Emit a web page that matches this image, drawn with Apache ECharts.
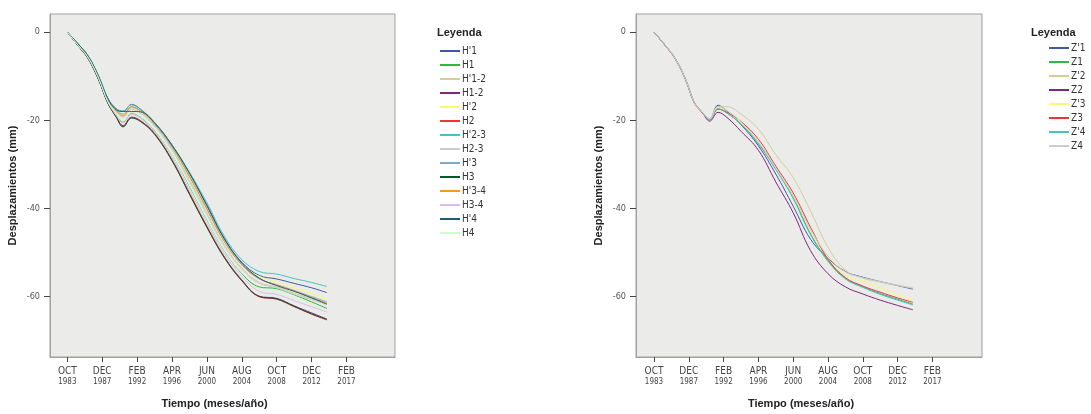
<!DOCTYPE html>
<html>
<head>
<meta charset="utf-8">
<title>Desplazamientos</title>
<script src="https://cdn.jsdelivr.net/npm/echarts@6/dist/echarts.min.js"></script>
<style>
  html, body { margin: 0; padding: 0; background: #fff; }
  #chart { width: 1091px; height: 414px; }
</style>
</head>
<body>
<div id="chart"></div>
<script>
// meses desde OCT 1983
var months = [0, 15, 30, 45, 58, 70, 80, 92, 105, 125, 150, 175, 200, 225, 250, 275, 300, 325, 350, 372]

var tickPos = [0, 50, 100, 150, 200, 250, 300, 350, 400]
var tickMonths = ['OCT', 'DEC', 'FEB', 'APR', 'JUN', 'AUG', 'OCT', 'DEC', 'FEB']
var tickYears = ['1983', '1987', '1992', '1996', '2000', '2004', '2008', '2012', '2017']
var yTicks = [0, -20, -40, -60]

// panel izquierdo (H)
var hNames = ["H'1", 'H1', "H'1-2", 'H1-2', "H'2", 'H2', "H'2-3", 'H2-3', "H'3", 'H3', "H'3-4", 'H3-4', "H'4", 'H4']
var hColors = ['#3E58AC', '#2EB848', '#D3CE97', '#7C287D', '#FBF873', '#EF3338', '#48C2C5', '#CCCCCC', '#7AAAD5', '#0A562C', '#F8981D', '#DDBAF1', '#1A5F76', '#CCFFCC']

var H1p = [0, -2.6, -5.5, -10.1, -15.0, -17.4, -18.0, -16.4, -17.5, -20.5, -25.6, -32.0, -39.2, -46.8, -52.2, -55.2, -56.0, -57.0, -58.0, -59.1]
var H1 = [0, -2.9, -5.9, -10.6, -15.8, -18.8, -20.4, -18.4, -19.3, -22.3, -28.0, -35.2, -42.8, -49.8, -54.8, -57.8, -58.2, -59.6, -61.2, -62.7]
var H12p = [0, -2.8, -5.7, -10.4, -15.4, -18.0, -19.0, -17.2, -18.2, -21.2, -26.5, -33.5, -41.0, -48.3, -53.5, -56.8, -57.8, -59.2, -60.5, -61.7]
var H12 = [0, -3.0, -6.0, -10.8, -16.0, -19.1, -21.2, -19.3, -20.1, -23.0, -29.0, -36.6, -44.2, -51.0, -56.2, -59.9, -60.4, -62.1, -63.7, -65.1]
var H2p = [0, -2.7, -5.6, -10.3, -15.2, -17.8, -18.8, -17.0, -18.0, -20.9, -26.2, -33.0, -40.3, -47.6, -52.8, -55.4, -56.6, -58.0, -59.3, -60.6]
var H2 = [0, -3.0, -6.0, -10.8, -16.0, -19.2, -21.4, -19.4, -20.2, -23.0, -29.0, -36.5, -44.0, -51.0, -56.3, -60.0, -60.6, -62.3, -64.0, -65.3]
var H23p = [0, -2.6, -5.4, -10.0, -15.0, -17.4, -17.9, -16.5, -17.6, -20.6, -25.6, -31.8, -38.7, -46.3, -51.6, -54.3, -54.9, -55.9, -56.8, -57.7]
var H23 = [0, -2.8, -5.7, -10.4, -15.5, -18.2, -19.3, -17.5, -18.4, -21.4, -26.8, -33.9, -41.4, -48.6, -53.8, -57.0, -58.0, -59.5, -60.7, -61.9]
var H3p = [0, -2.7, -5.6, -10.2, -15.2, -17.7, -18.6, -16.9, -17.9, -20.9, -26.1, -32.8, -40.2, -47.5, -52.8, -56.0, -57.3, -58.6, -60.0, -61.2]
var H3 = [0, -3.0, -6.1, -10.9, -16.1, -19.3, -21.5, -19.5, -20.3, -23.2, -29.2, -36.8, -44.3, -51.2, -56.4, -60.0, -60.5, -62.2, -63.9, -65.2]
var H34p = [0, -2.7, -5.5, -10.3, -15.2, -17.8, -19.0, -17.0, -17.9, -20.7, -25.9, -32.6, -40.0, -47.4, -52.7, -55.9, -57.4, -58.7, -60.2, -61.5]
var H34 = [0, -2.9, -5.9, -10.6, -15.8, -18.9, -20.6, -18.7, -19.6, -22.6, -28.4, -35.8, -43.3, -50.3, -55.4, -58.8, -59.5, -60.9, -62.3, -63.5]
var H4p = [0, -2.6, -5.5, -10.1, -15.1, -17.6, -18.0, -18.0, -18.1, -20.6, -25.7, -32.0, -39.4, -46.9, -52.4, -55.8, -57.5, -58.8, -60.3, -61.7]
var H4 = [0, -2.9, -5.8, -10.5, -15.7, -18.6, -20.2, -18.3, -19.2, -22.2, -28.0, -35.4, -42.9, -49.9, -55.0, -58.4, -59.0, -60.5, -61.8, -63.0]
var hValues = [H1p, H1, H12p, H12, H2p, H2, H23p, H23, H3p, H3, H34p, H34, H4p, H4]

// panel derecho (Z)
var zNames = ["Z'1", 'Z1', "Z'2", 'Z2', "Z'3", 'Z3', "Z'4", 'Z4']
var zColors = ['#3E58AC', '#2EB848', '#D3CE97', '#7C287D', '#FBF873', '#EF3338', '#48C2C5', '#CCCCCC']

var Z1p = [0, -2.8, -5.9, -10.6, -16.0, -18.3, -19.7, -16.6, -18.0, -21.0, -25.8, -32.2, -39.5, -47.0, -51.3, -54.3, -55.6, -56.6, -57.5, -58.3]
var Z1 = [0, -2.8, -5.9, -10.6, -16.0, -18.3, -19.9, -17.4, -18.4, -20.8, -25.3, -31.0, -37.5, -45.8, -51.8, -55.9, -57.8, -59.3, -60.6, -61.7]
var Z2p = [0, -2.8, -5.9, -10.6, -16.0, -18.3, -19.6, -17.0, -16.9, -18.6, -22.0, -27.8, -33.0, -40.6, -48.8, -54.0, -55.8, -56.7, -57.5, -58.1]
var Z2 = [0, -2.8, -5.9, -10.6, -16.0, -18.4, -20.2, -18.2, -19.4, -22.5, -26.8, -34.0, -41.0, -49.6, -54.8, -57.8, -59.4, -60.8, -62.0, -63.0]
var Z3p = [0, -2.8, -5.9, -10.6, -16.0, -18.3, -19.8, -17.2, -18.2, -20.6, -24.9, -30.9, -37.2, -45.0, -51.3, -55.2, -56.5, -58.0, -59.5, -60.9]
var Z3 = [0, -2.9, -6.0, -10.7, -16.1, -18.4, -19.9, -17.5, -18.2, -20.3, -24.3, -30.4, -36.5, -44.3, -51.5, -55.7, -57.6, -59.0, -60.3, -61.3]
var Z4p = [0, -2.8, -5.9, -10.6, -16.0, -18.3, -19.9, -17.4, -18.4, -20.9, -25.4, -31.2, -37.8, -46.0, -52.0, -56.0, -57.9, -59.5, -60.8, -61.9]
var Z4 = [0, -2.8, -5.9, -10.6, -16.0, -18.3, -19.7, -16.9, -17.8, -20.4, -24.9, -30.8, -37.0, -44.8, -50.8, -54.4, -55.7, -56.6, -57.4, -58.0]
var zValues = [Z1p, Z1, Z2p, Z2, Z3p, Z3, Z4p, Z4]

var FONT = '"Liberation Sans Narrow", "DejaVu Sans Condensed", "Liberation Sans", Arial, sans-serif'
var TITLE_FONT = '"Liberation Sans", Arial, sans-serif'

function xAxisFor(gridIndex, min, max) {
    return {
        type: 'value',
        gridIndex: gridIndex,
        min: min,
        max: max,
        name: 'Tiempo (meses/año)',
        nameLocation: 'middle',
        nameGap: 41,
        nameTextStyle: { fontFamily: TITLE_FONT, fontSize: 11, fontWeight: 'bold', color: '#222', padding: [0, 16, 0, 0] },
        splitLine: { show: false },
        axisLine: { show: true, onZero: false, lineStyle: { color: '#a0a0a0' } },
        axisTick: { show: true, customValues: tickPos, length: 5, lineStyle: { color: '#444' } },
        axisLabel: {
            customValues: tickPos,
            margin: 9,
            formatter: function (v) {
                var i = tickPos.indexOf(v)
                return '{m|' + tickMonths[i] + '}\n{y|' + tickYears[i] + '}'
            },
            rich: {
                m: { fontFamily: FONT, fontSize: 10, color: '#444', lineHeight: 11 },
                y: { fontFamily: FONT, fontSize: 8, color: '#444', lineHeight: 10 }
            }
        }
    }
}

function yAxisFor(gridIndex) {
    return {
        type: 'value',
        gridIndex: gridIndex,
        min: -73.7,
        max: 4.1,
        name: 'Desplazamientos (mm)',
        nameLocation: 'middle',
        nameGap: 32,
        nameTextStyle: { fontFamily: TITLE_FONT, fontSize: 11, fontWeight: 'bold', color: '#222' },
        splitLine: { show: false },
        axisLine: { show: true, onZero: false, lineStyle: { color: '#a0a0a0' } },
        axisTick: { show: true, customValues: yTicks, length: 6, lineStyle: { color: '#444' } },
        axisLabel: { customValues: yTicks, margin: 10, fontFamily: FONT, fontSize: 9, color: '#555' }
    }
}

function makeSeries(names, colors, values, idx) {
    return names.map(function (n, k) {
        return {
            name: n,
            type: 'line',
            xAxisIndex: idx,
            yAxisIndex: idx,
            symbol: 'none',
            smooth: 0.4,
            lineStyle: { width: 1, color: colors[k] },
            itemStyle: { color: colors[k] },
            data: months.map(function (m, i) { return [m, values[k][i]] })
        }
    })
}

function legendFor(names, left, top) {
    return {
        data: names,
        orient: 'vertical',
        left: left,
        top: top,
        icon: 'rect',
        itemWidth: 20,
        itemHeight: 2,
        itemGap: 4,
        padding: 0,
        textStyle: { fontFamily: FONT, fontSize: 10, color: '#333', padding: [0, 0, 0, -3] },
        selectedMode: false
    }
}

var chart = echarts.init(document.getElementById('chart'))

var option = {
    animation: false,
    backgroundColor: '#ffffff',
    title: [
        { text: 'Leyenda', left: 437, top: 27, padding: 0, textStyle: { fontFamily: TITLE_FONT, fontSize: 11, fontWeight: 'bold', color: '#222' } },
        { text: 'Leyenda', left: 1031, top: 27, padding: 0, textStyle: { fontFamily: TITLE_FONT, fontSize: 11, fontWeight: 'bold', color: '#222' } }
    ],
    legend: [
        legendFor(hNames, 440, 46),
        legendFor(zNames, 1049, 43)
    ],
    grid: [
        { left: 50, top: 14, width: 345, height: 344, show: true, backgroundColor: '#EBEBE9', borderColor: '#a0a0a0', borderWidth: 1 },
        { left: 636, top: 14, width: 346, height: 344, show: true, backgroundColor: '#EBEBE9', borderColor: '#a0a0a0', borderWidth: 1 }
    ],
    xAxis: [xAxisFor(0, -24.8, 469.5), xAxisFor(1, -25.9, 471.3)],
    yAxis: [yAxisFor(0), yAxisFor(1)],
    series: makeSeries(hNames, hColors, hValues, 0).concat(makeSeries(zNames, zColors, zValues, 1))
}

chart.setOption(option)
</script>
</body>
</html>
